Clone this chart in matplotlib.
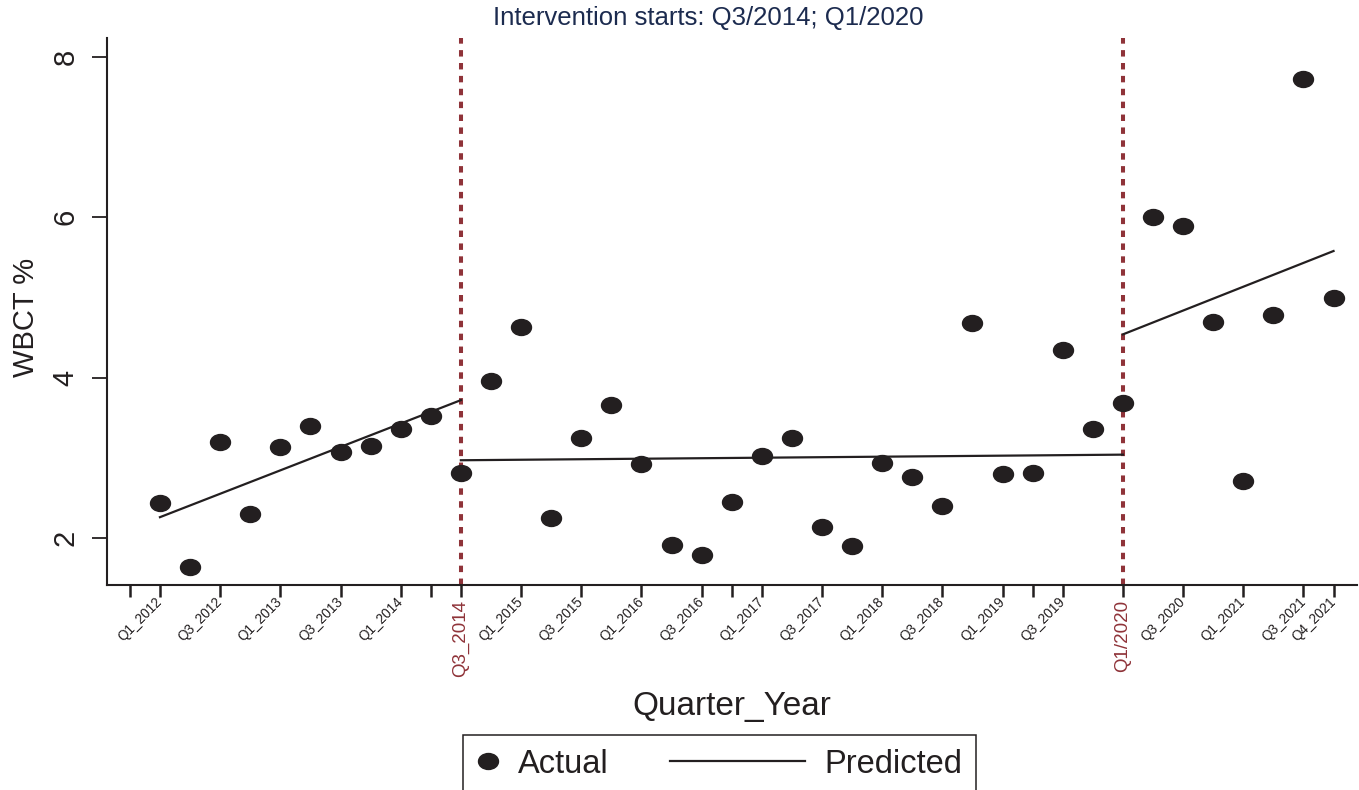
import matplotlib
matplotlib.use("Agg")
import matplotlib.pyplot as plt
from matplotlib.markers import MarkerStyle
from matplotlib.transforms import Affine2D
from matplotlib.legend_handler import HandlerLine2D

plt.rc("font", family="Liberation Sans")

INK = "#231f20"
RED = "#8f3339"
NAVY = "#1c2b4f"

# quarter index: 0 = Q1_2012 ... 39 = Q4_2021
quarter = list(range(40))
actual = [2.44, 1.64, 3.20, 2.30, 3.13, 3.40, 3.07, 3.15, 3.36, 3.52,
          2.81, 3.96, 4.63, 2.25, 3.25, 3.66, 2.92, 1.91, 1.79, 2.45,
          3.02, 3.25, 2.14, 1.90, 2.94, 2.76, 2.40, 4.68, 2.80, 2.81,
          4.34, 3.36, 3.69, 6.00, 5.89, 4.69, 2.71, 4.78, 7.72, 5.00]

# predicted segments (start / end of each linear piece)
pred_x = [[0, 10], [10, 32], [32, 39]]
pred_y = [[2.26, 3.72], [2.97, 3.04], [4.54, 5.58]]

interventions = [10, 32]

tick_pos = [-1, 0, 2, 4, 6, 8, 9, 10, 12, 14, 16, 18, 19, 20, 22, 24,
            26, 28, 29, 30, 32, 34, 36, 38, 39]
tick_labels = ["", "Q1_2012", "Q3_2012", "Q1_2013", "Q3_2013", "Q1_2014",
               "", "Q3_2014", "Q1_2015", "Q3_2015", "Q1_2016", "Q3_2016",
               "", "Q1_2017", "Q3_2017", "Q1_2018", "Q3_2018", "Q1_2019",
               "", "Q3_2019", "Q1/2020", "Q3_2020", "Q1_2021", "Q3_2021",
               "Q4_2021"]
red_labels = ["Q3_2014", "Q1/2020"]


class LongLine(HandlerLine2D):
  # stretch the line handle to the left so the dot handle can stay short
  def get_xdata(self, legend, xdescent, ydescent, width, height, fontsize):
    xd, xm = super().get_xdata(legend, xdescent, ydescent, width, height, fontsize)
    return [xd[0] - 3.47 * fontsize, xd[-1]], xm


fig = plt.figure(figsize=(13.59, 7.90), dpi=100)
ax = fig.add_axes([107/1359, 1 - 585/790, 1250/1359, 547/790])

for xv in interventions:
  ax.axvline(xv, color=RED, lw=2.9, ls=(0, (1.6, 1.6)), zorder=1)

for i, (xs, ys) in enumerate(zip(pred_x, pred_y)):
  ax.plot(xs, ys, color=INK, lw=1.6, zorder=2,
          label="Predicted" if i == 0 else None)

dot = MarkerStyle("o", transform=Affine2D().scale(1.25, 1.0))
dots, = ax.plot(quarter, actual, ls="none", marker=dot, ms=11.5,
                color=INK, mec=INK, zorder=3, label="Actual")

ax.set_xlim(-1.76, 39.78)
ax.set_ylim(1.414, 8.237)

for side in ["top", "right"]:
  ax.spines[side].set_visible(False)
for side in ["left", "bottom"]:
  ax.spines[side].set_linewidth(1.5)
  ax.spines[side].set_color(INK)

ax.set_yticks([2, 4, 6, 8])
ax.tick_params(axis="y", length=10.8, width=1.3, color=INK,
               labelsize=21, pad=9, labelcolor=INK)
for t in ax.get_yticklabels():
  t.set_rotation(90)
  t.set_va("center")

ax.set_xticks(tick_pos)
ax.set_xticklabels(tick_labels)
ax.tick_params(axis="x", length=8.6, width=1.8, color=INK, pad=2)
for t in ax.get_xticklabels():
  if t.get_text() in red_labels:
    t.set_rotation(90)
    t.set_fontsize(13.5)
    t.set_color(RED)
    t.set_ha("center")
    t.set_va("top")
  else:
    t.set_rotation(45)
    t.set_rotation_mode("anchor")
    t.set_ha("right")
    t.set_va("center")
    t.set_fontsize(9.8)
    t.set_color(INK)

ax.set_xlabel("Quarter_Year", fontsize=24, color=INK)
ax.xaxis.set_label_coords(0.5, -0.193)
ax.set_ylabel("WBCT %", fontsize=21, color=INK)
ax.yaxis.set_label_coords(-0.0536, 0.49)

fig.text(708/1359, 1 - 18/790, "Intervention starts: Q3/2014; Q1/2020",
         ha="center", va="center", fontsize=18.5, color=NAVY)

pred_handle = ax.get_lines()[2]
leg = fig.legend([dots, pred_handle], ["Actual", "Predicted"],
                 loc="upper left", bbox_to_anchor=(463/1359, 1 - 735/790),
                 borderaxespad=0, ncol=2, fontsize=23.5, frameon=True,
                 fancybox=False, framealpha=1, edgecolor=INK,
                 handlelength=0.67, handletextpad=0.58, columnspacing=5.37,
                 borderpad=0.42, numpoints=1,
                 handler_map={pred_handle: LongLine()})
leg.get_frame().set_linewidth(1.1)
for t in leg.get_texts():
  t.set_color(INK)

fig.savefig("out.png", dpi=100)
